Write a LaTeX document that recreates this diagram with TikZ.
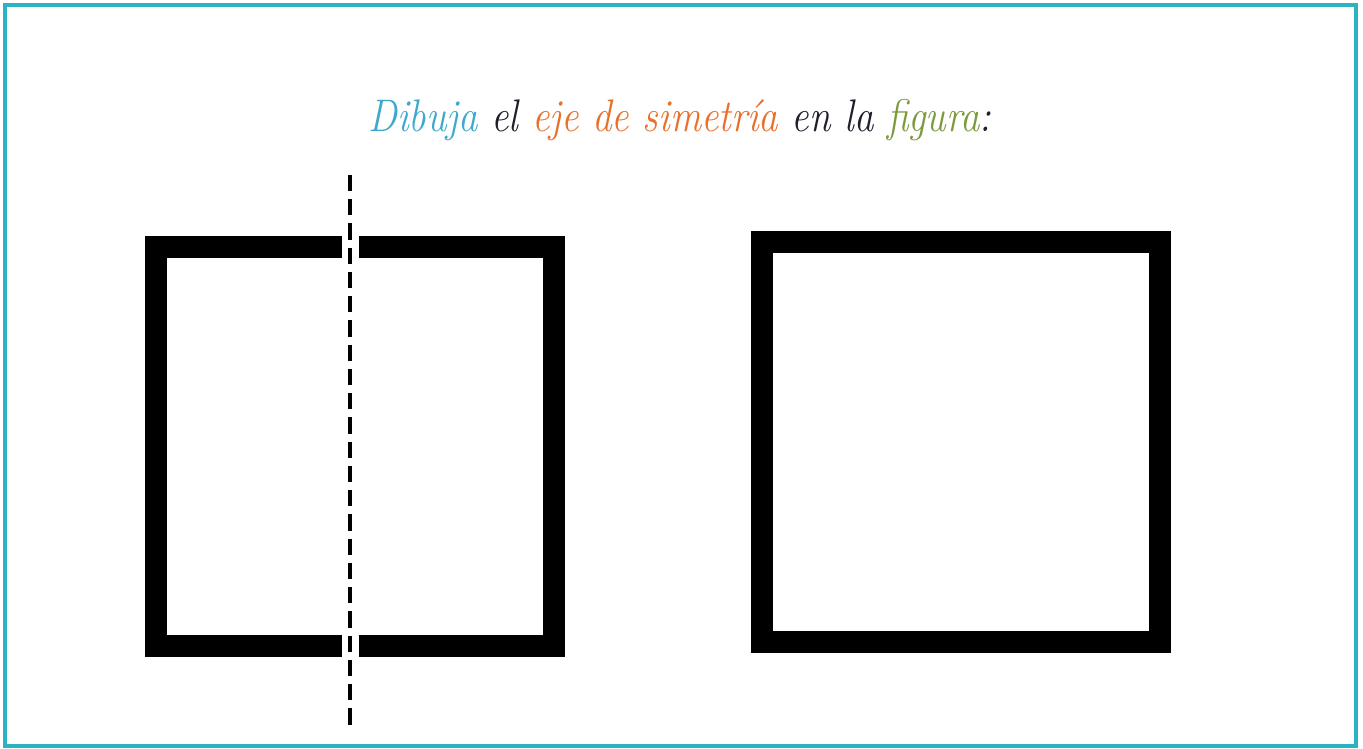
\documentclass[tikz,border=0pt]{standalone}
\usepackage{fontspec}
\definecolor{frame}{HTML}{2BB3C3}
\definecolor{wblue}{HTML}{3FA9CB}
\definecolor{wdark}{HTML}{1E1E2C}
\definecolor{worange}{HTML}{E8702A}
\definecolor{wgreen}{HTML}{7C9A3C}
\tikzset{
  figline/.style={line width=12.5pt, line join=miter, line cap=butt},
  axis/.style={line width=2.4pt, dash pattern=on 9.2pt off 4.6pt}
}
\begin{document}
\begin{tikzpicture}[x=0.02cm, y=-0.02cm]
      \useasboundingbox (0,0) rectangle (1363,749);
      \draw[frame, line width=2.4pt] (5,5) rectangle (1356,746);
      \draw
        (680,120) node (title){\scalebox{0.85}[1]{\fontsize{26}{30}\selectfont\itshape
          \textcolor{wblue}{Dibuja} \textcolor{wdark}{el}
          \textcolor{worange}{eje de simetría} \textcolor{wdark}{en la}
          \textcolor{wgreen}{figura}\textcolor{wdark}{:}}};
      \begin{scope}[figline]
        \draw (342,247) -- (156,247) -- (156,646) -- (342,646);
        \draw (359,247) -- (554,247) -- (554,646) -- (359,646);
        \draw (762,242) rectangle (1160,642);
      \end{scope}
      \coordinate (top) at (350,175);
      \coordinate (bottom) at (350,728);
      \draw[axis] (top) -- (bottom);
    \end{tikzpicture}
\end{document}
